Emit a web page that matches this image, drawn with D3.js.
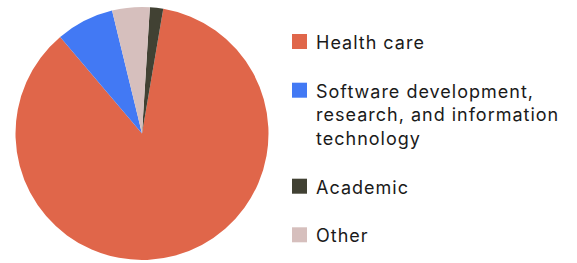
<!DOCTYPE html>
<html>
<head>
<meta charset="utf-8">
<script src="https://cdn.jsdelivr.net/npm/d3@7"></script>
<style>
  html, body { margin: 0; padding: 0; background: #fff; }
  svg { display: block; }
</style>
</head>
<body>
<div id="chart"></div>
<script>
const categories = ['Health care', 'Software development, research, and information technology', 'Academic', 'Other'];
const shares = [86.2, 7.4, 1.7, 4.8];
const colors = ['#e0664a', '#4279f4', '#414133', '#d6bfbd'];
// clockwise drawing order on the pie
const pieOrder = ['Health care', 'Software development, research, and information technology', 'Other', 'Academic'];

const W = 577, H = 263;
const cx = 142, cy = 133.5, R = 126.5;
const start = 0.169;

const data = categories.map((c, i) => ({ name: c, value: shares[i], color: colors[i] }));
const color = d3.scaleOrdinal().domain(categories).range(colors);

const svg = d3.select('#chart').append('svg').attr('width', W).attr('height', H);

const pie = d3.pie()
  .value(d => d.value)
  .sort((a, b) => pieOrder.indexOf(a.name) - pieOrder.indexOf(b.name))
  .startAngle(start).endAngle(start + 2 * Math.PI);
const arc = d3.arc().innerRadius(0).outerRadius(R);

svg.append('g').attr('transform', `translate(${cx},${cy})`)
  .selectAll('path').data(pie(data)).join('path')
  .attr('d', arc).attr('fill', d => color(d.data.name));

// legend
const lx = 292, sq = 15, textX = 316, lineH = 23.5, maxW = 255;
const baselines = [49, 97.7, 193.7, 242.3];
const leg = svg.append('g').attr('font-family', 'Inter, "DejaVu Sans", sans-serif')
  .attr('font-size', '18px').attr('letter-spacing', '1px').attr('fill', '#1a1a1a');

categories.forEach((c, i) => {
  const y = baselines[i];
  leg.append('rect').attr('x', lx).attr('y', y - sq).attr('width', sq).attr('height', sq)
    .attr('fill', color(c));
  const t = leg.append('text').attr('x', textX).attr('y', y);
  const words = c.split(' ');
  let line = [], ts = t.append('tspan').attr('x', textX).attr('y', y), ln = 0;
  words.forEach(w => {
    line.push(w);
    ts.text(line.join(' '));
    if (ts.node().getComputedTextLength() > maxW && line.length > 1) {
      line.pop();
      ts.text(line.join(' '));
      line = [w];
      ln++;
      ts = t.append('tspan').attr('x', textX).attr('y', y + ln * lineH).text(w);
    }
  });
});
</script>
</body>
</html>
